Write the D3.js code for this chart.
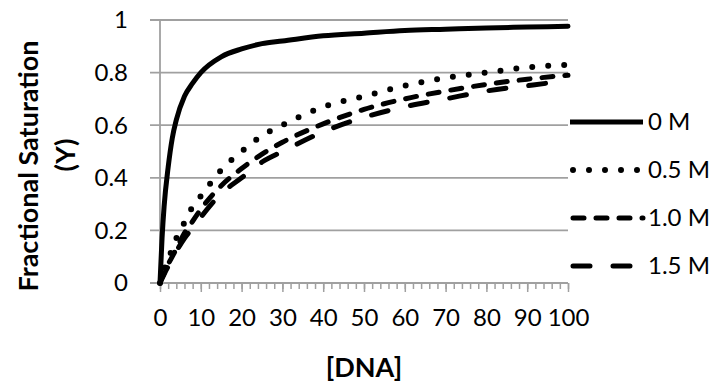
<!DOCTYPE html>
<html>
<head>
<meta charset="utf-8">
<script src="https://cdn.jsdelivr.net/npm/d3@7"></script>
<style>
  body { margin: 0; background: #fff; }
  text { font-family: Lato, "Open Sans", sans-serif; fill: #000; }
</style>
</head>
<body>
<div id="chart"></div>
<script>
// Data
const dna = [0, 0.5, 1, 2, 3, 4, 6, 8, 10, 15, 20, 25, 30, 40, 50, 60, 70, 80, 90, 100];
const salt0 = [0, 0.17, 0.29, 0.44, 0.55, 0.62, 0.71, 0.76, 0.80, 0.86, 0.89, 0.91, 0.92, 0.94, 0.95, 0.96, 0.965, 0.97, 0.973, 0.976];
const salt05 = [0, 0.02, 0.05, 0.09, 0.13, 0.17, 0.23, 0.29, 0.33, 0.43, 0.50, 0.56, 0.60, 0.67, 0.71, 0.75, 0.78, 0.80, 0.82, 0.83];
const salt10 = [0, 0.019, 0.037, 0.071, 0.10, 0.13, 0.19, 0.235, 0.28, 0.37, 0.435, 0.49, 0.535, 0.605, 0.66, 0.70, 0.73, 0.755, 0.775, 0.79];
const salt15 = [0, 0.017, 0.033, 0.063, 0.09, 0.12, 0.17, 0.21, 0.25, 0.34, 0.40, 0.46, 0.50, 0.575, 0.63, 0.67, 0.70, 0.73, 0.75, 0.77];
const seriesNames = ['0 M', '0.5 M', '1.0 M', '1.5 M'];
const xTicks = [0, 10, 20, 30, 40, 50, 60, 70, 80, 90, 100];
const yTicks = [0, 0.2, 0.4, 0.6, 0.8, 1];

// Sizes
const W = 728;
const H = 387;
const plot = { left: 160, right: 568, top: 20, bottom: 283 };

const series = [
  { name: seriesNames[0], values: salt0, dash: null, width: 5 },
  { name: seriesNames[1], values: salt05, dash: '0,16', width: 6 },
  { name: seriesNames[2], values: salt10, dash: '11,12', width: 5 },
  { name: seriesNames[3], values: salt15, dash: '17,23', width: 5 },
];

const svg = d3.select('#chart')
  .append('svg')
  .attr('width', W)
  .attr('height', H);

const x = d3.scaleLinear().domain([0, 100]).range([plot.left, plot.right]);
const y = d3.scaleLinear().domain([0, 1]).range([plot.bottom, plot.top]);

// horizontal gridlines (with the y tick stubs left of the axis)
svg.append('g')
  .selectAll('line')
  .data(yTicks)
  .join('line')
  .attr('x1', plot.left - 10)
  .attr('x2', plot.right)
  .attr('y1', (d) => y(d))
  .attr('y2', (d) => y(d))
  .attr('stroke', '#a0a0a0')
  .attr('stroke-width', 1.8);

// y axis line
svg.append('line')
  .attr('x1', plot.left).attr('x2', plot.left)
  .attr('y1', plot.top).attr('y2', plot.bottom)
  .attr('stroke', '#a0a0a0')
  .attr('stroke-width', 1.8);

// y tick labels
svg.append('g')
  .selectAll('text')
  .data(yTicks)
  .join('text')
  .attr('x', 128)
  .attr('y', (d) => y(d))
  .attr('dy', '0.35em')
  .attr('text-anchor', 'end')
  .style('font-size', '24px')
  .text((d) => d);

// x axis: minor ticks every 2, major every 10
const xAxisMinor = d3.axisBottom(x).tickValues(d3.range(0, 101, 2)).tickSize(6).tickFormat('');
const xAxisMajor = d3.axisBottom(x).tickValues(xTicks).tickSize(9).tickPadding(17).tickFormat(d3.format('d'));
svg.append('g')
  .attr('transform', `translate(0,${plot.bottom})`)
  .call(xAxisMinor)
  .call((g) => g.select('.domain').remove())
  .selectAll('line')
  .attr('stroke', '#a0a0a0')
  .attr('stroke-width', 1.5);
const gx = svg.append('g')
  .attr('transform', `translate(0,${plot.bottom})`)
  .call(xAxisMajor);
gx.select('.domain').attr('stroke', '#a0a0a0').attr('stroke-width', 1.8)
  .attr('d', `M${plot.left - 10},0H${plot.right}`);
gx.selectAll('line').attr('stroke', '#a0a0a0').attr('stroke-width', 1.5);
gx.selectAll('text')
  .style('font-size', '24px')
  .style('font-family', 'Lato, "Open Sans", sans-serif')
  .attr('fill', '#000');

// lines
const line = d3.line()
  .x((d, i) => x(dna[i]))
  .y((d) => y(d))
  .curve(d3.curveMonotoneX);

svg.append('g')
  .selectAll('path')
  .data(series)
  .join('path')
  .attr('fill', 'none')
  .attr('stroke', '#000')
  .attr('stroke-width', (d) => d.width)
  .attr('stroke-linecap', 'round')
  .attr('stroke-dasharray', (d) => d.dash)
  .attr('d', (d) => line(d.values));

// legend
const legend = svg.append('g')
  .selectAll('g')
  .data(series)
  .join('g')
  .attr('transform', (d, i) => `translate(570,${122 + i * 48})`);
legend.append('line')
  .attr('x1', (d) => (d.dash ? 3 : 0))
  .attr('x2', 73)
  .attr('stroke', '#000')
  .attr('stroke-width', (d) => d.width)
  .attr('stroke-linecap', (d) => (d.dash ? 'round' : 'butt'))
  .attr('stroke-dasharray', (d) => d.dash);
legend.append('text')
  .attr('x', 78)
  .attr('dy', '0.35em')
  .style('font-size', '24px')
  .text((d) => d.name);

// axis titles
svg.append('text')
  .attr('x', (plot.left + plot.right) / 2)
  .attr('y', 377)
  .attr('text-anchor', 'middle')
  .style('font-size', '27px')
  .style('font-weight', 'bold')
  .text('[DNA]');

svg.append('text')
  .attr('transform', 'translate(27,166) rotate(-90)')
  .attr('text-anchor', 'middle')
  .attr('dominant-baseline', 'central')
  .style('font-size', '27px')
  .style('font-weight', 'bold')
  .text('Fractional Saturation');

svg.append('text')
  .attr('transform', 'translate(64,155) rotate(-90)')
  .attr('text-anchor', 'middle')
  .attr('dominant-baseline', 'central')
  .style('font-size', '27px')
  .style('font-weight', 'bold')
  .text('(Y)');
</script>
</body>
</html>
